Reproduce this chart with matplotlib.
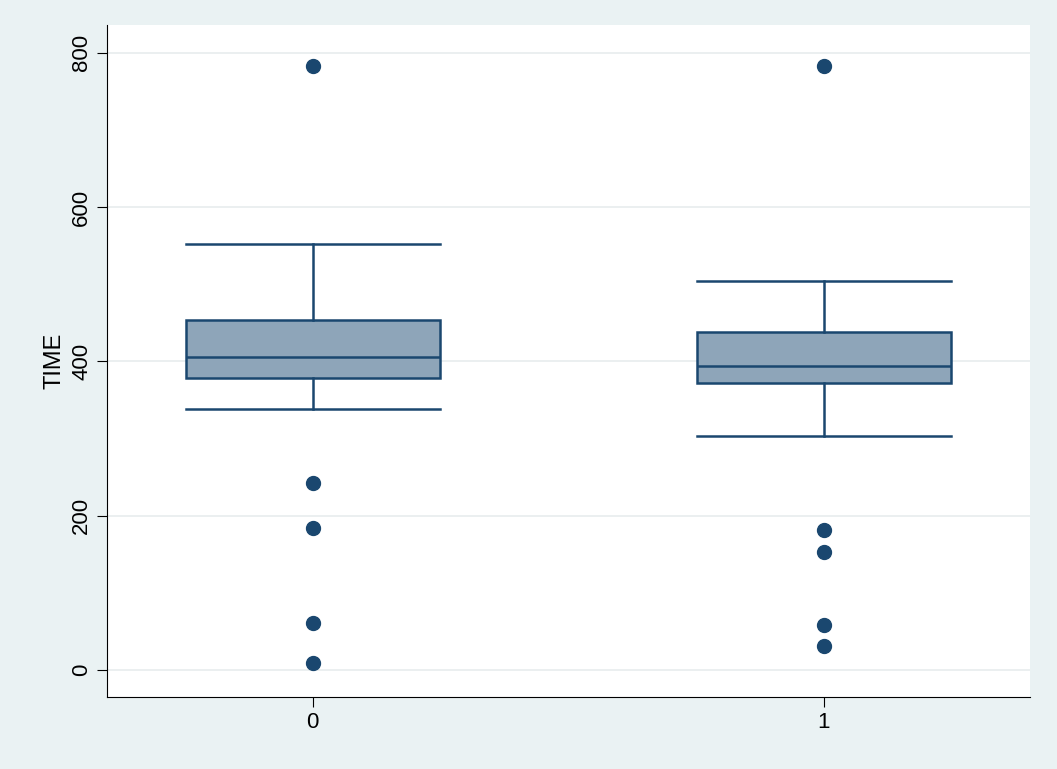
import matplotlib.pyplot as plt

plt.rcParams['font.family'] = ['Liberation Sans', 'DejaVu Sans']

groups = ["0", "1"]
whislo = [338, 303]
q1 = [379, 372]
med = [406, 394]
q3 = [453, 438]
whishi = [552, 504]
outliers = [[783, 242, 184, 61, 9], [783, 181, 153, 58, 31]]

navy = "#1a476f"
stats = []
for i, g in enumerate(groups):
    stats.append(dict(label=g, whislo=whislo[i], q1=q1[i], med=med[i],
                      q3=q3[i], whishi=whishi[i], fliers=outliers[i]))

fig = plt.figure(figsize=(10.57, 7.69), dpi=100, facecolor="#eaf2f3")
ax = fig.add_axes([0.101, 0.0936, 0.873, 0.874])
ax.set_facecolor("white")

ax.bxp(stats, positions=[0, 1], widths=0.497, patch_artist=True,
       boxprops=dict(facecolor="#8ea5b9", edgecolor=navy, linewidth=1.8),
       medianprops=dict(color=navy, linewidth=1.8),
       whiskerprops=dict(color=navy, linewidth=1.8),
       capprops=dict(color=navy, linewidth=1.8),
       capwidths=0.497,
       flierprops=dict(marker="o", markerfacecolor=navy, markeredgecolor=navy, markersize=10))

ax.set_xlim(-0.403, 1.403)
ax.set_ylim(-35, 836)
ax.set_yticks([0, 200, 400, 600, 800])
ax.set_yticklabels(["0", "200", "400", "600", "800"], rotation=90, va="center")
ax.yaxis.grid(True, color="#e8eced", linewidth=1.2)
ax.set_axisbelow(True)
ax.set_ylabel("TIME", fontsize=17)
ax.tick_params(labelsize=16, length=7)
for s in ["top", "right"]:
    ax.spines[s].set_visible(False)

fig.savefig("out.png", dpi=100, facecolor=fig.get_facecolor())
